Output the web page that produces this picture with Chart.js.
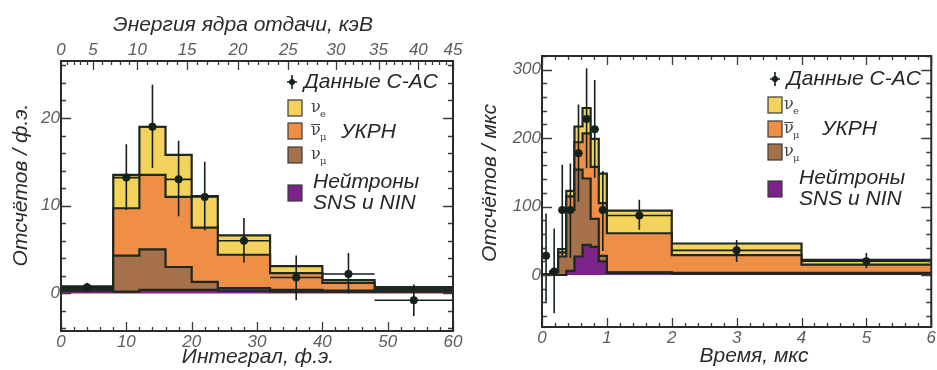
<!DOCTYPE html>
<html><head><meta charset="utf-8">
<script src="https://cdn.jsdelivr.net/npm/chart.js@4.4.1/dist/chart.umd.min.js"></script>
<style>
html,body{margin:0;padding:0;background:#fff;}
#wrap{position:relative;width:937px;height:370px;overflow:hidden;background:#fff;}
canvas{position:absolute;top:0;}
#c1{left:0;} #c2{left:470px;}
</style></head><body>
<div id="wrap"><canvas id="c1" width="470" height="370"></canvas><canvas id="c2" width="467" height="370"></canvas></div>
<script>
// ================= LEFT PANEL: integral, PE =================
const peEdges     = [0, 8, 12, 16, 20, 24, 32, 40, 48, 60];
const peNeutrons  = [0.3, 0.2, 0.4, 0.4, 0.4, 0.3, 0.2, 0.2, 0.2];
const peNumu      = [0.2, 4.1, 4.6, 2.6, 0.9, 0.3, 0.2, 0.1, 0.1];
const peNumubar   = [0.1, 5.4, 8.5, 8.0, 6.2, 3.8, 1.9, 0.9, 0.2];
const peNue       = [0.2, 3.8, 5.5, 4.8, 3.6, 2.2, 0.8, 0.3, 0.2];
const peDataX     = [4, 10, 14, 18, 22, 28, 36, 44, 54];
const peDataY     = [0.7, 13.2, 19.0, 13.0, 11.0, 6.0, 1.8, 2.2, -0.8];
const peDataLo    = [0.2, 9.5, 14.3, 8.8, 7.2, 3.5, -0.8, 0.0, -2.6];
const peDataHi    = [1.2, 17.0, 23.8, 17.4, 15.0, 8.6, 4.3, 4.6, 1.0];
const peXTicks    = [0, 10, 20, 30, 40, 50, 60];
const peYTicks    = [0, 10, 20];
const energyTickLabels = ['0', '5', '10', '15', '20', '25', '30', '35', '40', '45'];
const energyTickAtPE   = [0, 4.9, 11.7, 19.3, 27.1, 34.8, 42.1, 48.6, 54.7, 60];

// ================= RIGHT PANEL: time, us =================
const tEdges     = [0, 0.125, 0.25, 0.375, 0.5, 0.625, 0.75, 0.875, 1, 2, 4, 6];
const tNeutrons  = [0, 0, 0, 6, 27, 44, 41, 20, 3, 2, 2];
const tNumu      = [0.5, 4, 27, 89, 127, 97, 41, 8, 1, 1, 1];
const tNumubar   = [0.2, 1, 6, 20, 40, 66, 76, 77, 57, 26, 12];
const tNue       = [0.3, 0, 5, 8, 23, 37, 41, 43, 33, 17, 7];
const tDataX     = [0.0625, 0.1875, 0.3125, 0.4375, 0.5625, 0.6875, 0.8125, 0.9375, 1.5, 3, 5];
const tDataY     = [28, 5, 95, 95, 178, 228, 213, 95, 87, 36, 20];
const tDataLo    = [-39, -56, 28, 25, 107, 156, 142, 35, 66, 19, 10];
const tDataHi    = [90, 68, 161, 163, 249, 302, 285, 152, 110, 51, 32];
const tXTicks    = [0, 1, 2, 3, 4, 5, 6];
const tYTicks    = [0, 100, 200, 300];

// ================= TEXT =================
const legendDataLabel = 'Данные C-AC';
const legendCevns = 'УКРН';
const legendNeutrons = ['Нейтроны', 'SNS и NIN'];
const leftTitles = { top: 'Энергия ядра отдачи, кэВ', y: 'Отсчётов / ф.э.', x: 'Интеграл, ф.э.' };
const rightTitles = { y: 'Отсчётов / мкс', x: 'Время, мкс' };

// ================= STYLE =================
const COL = { nue:'#f4d35c', numubar:'#ee8f45', numu:'#a6714a', neut:'#7a2389', line:'#1c2820', data:'#14221a' };
const FAM = '"Liberation Sans", Arial, sans-serif';
const tickFont = { family: FAM, style: 'italic', size: 17 };

function cumulative(...arrs){ return arrs[0].map((_, i) => arrs.reduce((s, a) => s + a[i], 0)); }
function stepData(edges, vals){
  const pts = vals.map((v, i) => ({ x: edges[i], y: v }));
  pts.push({ x: edges[edges.length - 1], y: vals[vals.length - 1] });
  return pts;
}
function histDatasets(edges, neut, numu, numubar, nue){
  const lv = [cumulative(neut), cumulative(neut, numu), cumulative(neut, numu, numubar), cumulative(neut, numu, numubar, nue)];
  const cols = [COL.neut, COL.numu, COL.numubar, COL.nue];
  return lv.map((vals, k) => ({
    data: stepData(edges, vals), stepped: true, fill: 'origin',
    backgroundColor: cols[k], borderColor: COL.line, borderWidth: 2.2,
    pointRadius: 0, pointHoverRadius: 0
  }));
}
function dataDataset(xs, ys){
  return { data: xs.map((x, i) => ({ x, y: ys[i] })), showLine: false,
    pointRadius: 4, pointBackgroundColor: COL.data, pointBorderColor: COL.data, pointBorderWidth: 0 };
}

// ---- plugin: error bars for data (vertical + bin-width horizontal) ----
const errBars = {
  id: 'errBars',
  beforeDatasetDraw(chart, args, o){
    if (args.index !== 0) return;
    const { ctx, scales: { x, y }, chartArea: a } = chart;
    ctx.save();
    ctx.beginPath(); ctx.rect(a.left, a.top, a.right - a.left, a.bottom - a.top); ctx.clip();
    ctx.strokeStyle = COL.data; ctx.lineWidth = 1.6;
    ctx.beginPath();
    o.xs.forEach((xv, i) => {
      const px = x.getPixelForValue(xv), py = y.getPixelForValue(o.ys[i]);
      ctx.moveTo(px, y.getPixelForValue(o.lo[i])); ctx.lineTo(px, y.getPixelForValue(o.hi[i]));
      const bi = o.edges.findIndex((e, j) => j < o.edges.length - 1 && xv >= e && xv < o.edges[j + 1]);
      ctx.moveTo(x.getPixelForValue(o.edges[bi]), py); ctx.lineTo(x.getPixelForValue(o.edges[bi + 1]), py);
    });
    ctx.stroke();
    ctx.restore();
  }
};

// ---- plugin: ROOT-like frame with inward ticks ----
function range(a, b, s){ const r = []; for (let v = a; v <= b + 1e-9; v += s) r.push(+v.toFixed(6)); return r; }
const frameTicks = {
  id: 'frameTicks',
  afterDraw(chart, args, o){
    const { ctx, chartArea: a, scales } = chart;
    const xs = scales.x, ys = scales.y;
    ctx.save();
    ctx.strokeStyle = '#3c3c3c'; ctx.lineWidth = 1.3;
    ctx.beginPath();
    const seg = (x1, y1, x2, y2) => { ctx.moveTo(x1, y1); ctx.lineTo(x2, y2); };
    const doX = (vals, len, top, bottom) => vals.forEach(v => {
      const p = Math.round(xs.getPixelForValue(v)) + 0.5;
      if (p < a.left - 0.5 || p > a.right + 0.5) return;
      if (bottom) seg(p, a.bottom, p, a.bottom - len);
      if (top) seg(p, a.top, p, a.top + len);
    });
    const doY = (vals, len) => vals.forEach(v => {
      const p = Math.round(ys.getPixelForValue(v)) + 0.5;
      if (p < a.top - 0.5 || p > a.bottom + 0.5) return;
      seg(a.left, p, a.left + len, p); seg(a.right, p, a.right - len, p);
    });
    const hasTop = !!o.topMajor;
    doX(o.xMajor, 9, !hasTop, true);
    doX(o.xMinor, 4, !hasTop, true);
    if (hasTop){ doX(o.topMajor, 9, true, false); doX(o.topMinor, 4, true, false); }
    doY(o.yMajor, 10);
    doY(o.yMinor, 5);
    ctx.stroke();
    ctx.lineWidth = 2; ctx.strokeStyle = '#2a2a2a';
    ctx.strokeRect(a.left, a.top, a.right - a.left, a.bottom - a.top);
    ctx.restore();
  }
};

// ---- plugin: axis titles + legend ----
const decor = {
  id: 'decor',
  afterDraw(chart, args, o){
    const ctx = chart.ctx;
    ctx.save();
    ctx.fillStyle = '#2b2b2b';
    ctx.font = 'italic 21px ' + FAM; ctx.textAlign = 'center'; ctx.textBaseline = 'middle';
    o.titles.forEach(t => {
      ctx.save(); ctx.translate(t.x, t.y); if (t.rot) ctx.rotate(t.rot); ctx.fillText(t.text, 0, 0); ctx.restore();
    });
    const L = o.legend;
    // data entry
    ctx.strokeStyle = COL.data; ctx.lineWidth = 1.6; ctx.beginPath();
    ctx.moveTo(L.plusX - 5, L.dataY); ctx.lineTo(L.plusX + 5, L.dataY);
    ctx.moveTo(L.plusX, L.dataY - 7); ctx.lineTo(L.plusX, L.dataY + 7); ctx.stroke();
    ctx.fillStyle = COL.data; ctx.beginPath(); ctx.arc(L.plusX, L.dataY, 3, 0, Math.PI * 2); ctx.fill();
    ctx.fillStyle = '#262626'; ctx.textAlign = 'left';
    ctx.font = 'italic 21px ' + FAM;
    ctx.fillText(legendDataLabel, L.textX, L.dataY);
    // boxes
    const boxes = [[COL.nue, 'e', false], [COL.numubar, 'μ', true], [COL.numu, 'μ', false], [COL.neut, null, false]];
    boxes.forEach(([c, sub, bar], i) => {
      const by = L.boxY[i];
      ctx.fillStyle = c; ctx.fillRect(L.boxX, by, 14, 16);
      ctx.strokeStyle = '#3a3a3a'; ctx.lineWidth = 1.2; ctx.strokeRect(L.boxX, by, 14, 16);
      if (sub){
        ctx.fillStyle = '#444';
        ctx.font = '16px "DejaVu Serif", serif'; ctx.textBaseline = 'alphabetic';
        ctx.fillText('ν', L.nuX, by + 12);
        ctx.font = '10px "DejaVu Serif", serif';
        ctx.fillText(sub, L.nuX + 9, by + 17);
        if (bar){ ctx.strokeStyle = '#444'; ctx.lineWidth = 1; ctx.beginPath(); ctx.moveTo(L.nuX, by + 1.5); ctx.lineTo(L.nuX + 9, by + 1.5); ctx.stroke(); }
        ctx.textBaseline = 'middle';
      }
    });
    ctx.fillStyle = '#262626'; ctx.font = 'italic 21px ' + FAM;
    ctx.fillText(legendCevns, L.cevnsX, L.cevnsY);
    ctx.fillText(legendNeutrons[0], L.neutX, L.neutY[0]);
    ctx.fillText(legendNeutrons[1], L.neutX, L.neutY[1]);
    ctx.restore();
  }
};

function axisCommon(extra){
  return Object.assign({ type: 'linear', grid: { display: false, drawTicks: false }, border: { display: false },
    ticks: { font: tickFont, color: '#5c5c5c', autoSkip: false, maxRotation: 0, padding: 1 } }, extra);
}

// ---------- left chart ----------
const leftX2 = axisCommon({ position: 'top', min: 0, max: 60,
  afterBuildTicks: s => { s.ticks = energyTickAtPE.map(v => ({ value: v })); },
  afterFit: s => { s.height = 61; } });
leftX2.ticks = Object.assign({}, leftX2.ticks, { callback: (v, i) => energyTickLabels[i] });

new Chart(document.getElementById('c1'), {
  type: 'line',
  data: { datasets: [dataDataset(peDataX, peDataY), ...histDatasets(peEdges, peNeutrons, peNumu, peNumubar, peNue)] },
  options: {
    responsive: false, animation: false, events: [],
    layout: { padding: { left: 0, right: 17, top: 0, bottom: 0 } },
    plugins: {
      legend: { display: false }, tooltip: { enabled: false },
      errBars: { xs: peDataX, ys: peDataY, lo: peDataLo, hi: peDataHi, edges: peEdges },
      frameTicks: { xMajor: peXTicks, xMinor: range(0, 60, 2), yMajor: peYTicks, yMinor: range(-4, 26, 2),
        topMajor: energyTickAtPE,
        topMinor: energyTickAtPE.slice(0, -1).flatMap((p, i) => [1, 2, 3, 4].map(k => p + (energyTickAtPE[i + 1] - p) * k / 5)) },
      decor: {
        titles: [ { text: leftTitles.top, x: 243, y: 25 }, { text: leftTitles.x, x: 258, y: 357 },
                  { text: leftTitles.y, x: 21, y: 185, rot: -Math.PI / 2 } ],
        legend: { plusX: 292, dataY: 82, textX: 304, boxX: 288, boxY: [100, 123, 147, 185], nuX: 311,
                  cevnsX: 341, cevnsY: 132, neutX: 313, neutY: [182, 203] }
      }
    },
    scales: {
      x: axisCommon({ position: 'bottom', min: 0, max: 60,
        afterBuildTicks: s => { s.ticks = peXTicks.map(v => ({ value: v })); }, afterFit: s => { s.height = 39; } }),
      x2: leftX2,
      y: axisCommon({ position: 'left', min: -4.3, max: 26.5,
        afterBuildTicks: s => { s.ticks = peYTicks.map(v => ({ value: v })); }, afterFit: s => { s.width = 61; } })
    }
  },
  plugins: [errBars, frameTicks, decor]
});

// ---------- right chart ----------
new Chart(document.getElementById('c2'), {
  type: 'line',
  data: { datasets: [dataDataset(tDataX, tDataY), ...histDatasets(tEdges, tNeutrons, tNumu, tNumubar, tNue)] },
  options: {
    responsive: false, animation: false, events: [],
    layout: { padding: { left: 0, right: 1.5, top: 56, bottom: 0 } },
    plugins: {
      legend: { display: false }, tooltip: { enabled: false },
      errBars: { xs: tDataX, ys: tDataY, lo: tDataLo, hi: tDataHi, edges: tEdges },
      frameTicks: { xMajor: tXTicks, xMinor: range(0, 6, 0.2), yMajor: tYTicks, yMinor: range(-60, 320, 20) },
      decor: {
        titles: [ { text: rightTitles.x, x: 284, y: 356 }, { text: rightTitles.y, x: 20, y: 183, rot: -Math.PI / 2 } ],
        legend: { plusX: 305, dataY: 79, textX: 317, boxX: 298, boxY: [97, 121, 144, 181], nuX: 314,
                  cevnsX: 352, cevnsY: 129, neutX: 329, neutY: [178, 199] }
      }
    },
    scales: {
      x: axisCommon({ position: 'bottom', min: 0, max: 6,
        afterBuildTicks: s => { s.ticks = tXTicks.map(v => ({ value: v })); }, afterFit: s => { s.height = 43; } }),
      y: axisCommon({ position: 'left', min: -76, max: 320,
        afterBuildTicks: s => { s.ticks = tYTicks.map(v => ({ value: v })); }, afterFit: s => { s.width = 72; } })
    }
  },
  plugins: [errBars, frameTicks, decor]
});
</script>
</body></html>
